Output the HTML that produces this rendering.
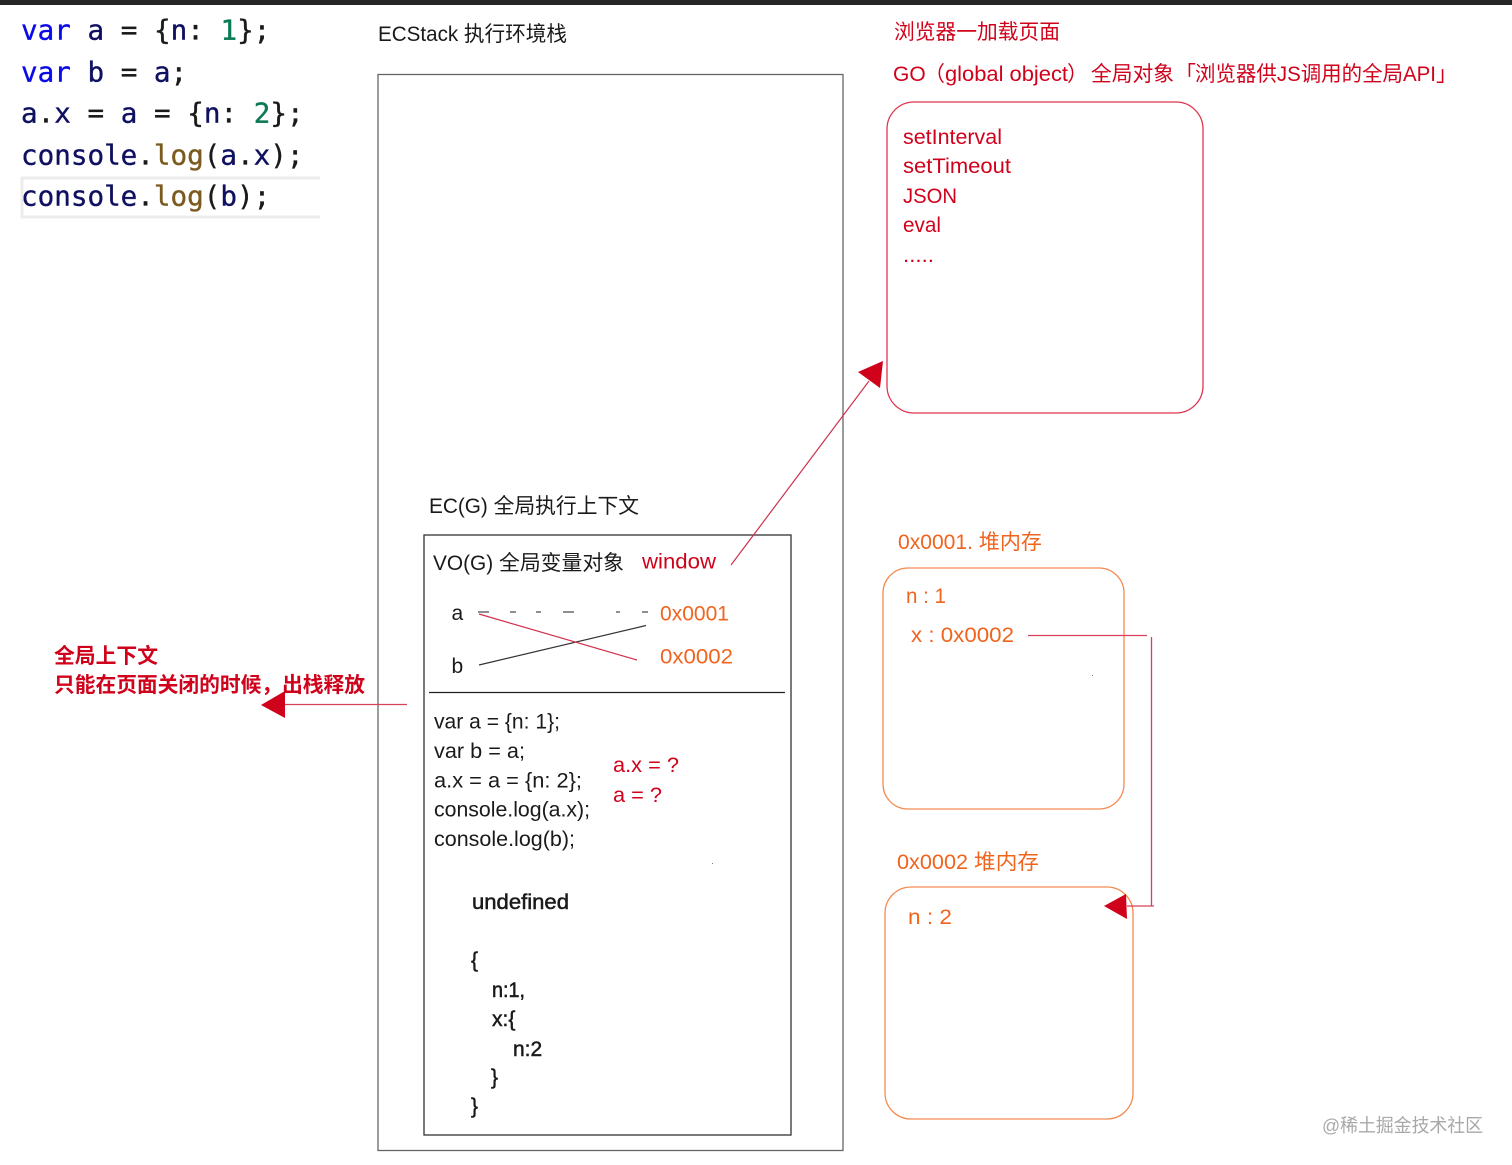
<!DOCTYPE html>
<html lang="zh">
<head>
<meta charset="utf-8">
<title>ECStack diagram</title>
<style>
html,body{margin:0;padding:0;background:#fff;}
svg{display:block;}
text{font-family:"Liberation Sans","Noto Sans CJK SC",sans-serif;font-size:21px;fill:#1a1a1a;}
.code{font-family:"DejaVu Sans Mono","Liberation Mono",monospace;font-size:27.6px;fill:#101060;stroke:#101060;stroke-width:.35px;}
.k{fill:#0a0ae6;stroke:#0a0ae6}.n{fill:#0b7a52;stroke:#0b7a52}.p{fill:#1a1a1a;stroke:#1a1a1a}.f{fill:#7a5a1e;stroke:#7a5a1e}
.r{fill:#d0021b}.o{fill:#f0641e}
.b{font-weight:bold;}
</style>
</head>
<body>
<svg width="1512" height="1165" viewBox="0 0 1512 1165" xmlns="http://www.w3.org/2000/svg">
<rect width="1512" height="5" fill="#262626"/>

<!-- code -->
<path d="M320 178H22V217H320" fill="none" stroke="#ececec" stroke-width="3"/>
<text class="code" x="21" y="39.500"><tspan class="k">var</tspan> a <tspan class="p">=</tspan> <tspan class="p">{</tspan>n<tspan class="p">:</tspan> <tspan class="n">1</tspan><tspan class="p">};</tspan></text>
<text class="code" x="21" y="81.500"><tspan class="k">var</tspan> b <tspan class="p">=</tspan> a<tspan class="p">;</tspan></text>
<text class="code" x="21" y="122.500">a<tspan class="p">.</tspan>x <tspan class="p">=</tspan> a <tspan class="p">=</tspan> <tspan class="p">{</tspan>n<tspan class="p">:</tspan> <tspan class="n">2</tspan><tspan class="p">};</tspan></text>
<text class="code" x="21" y="164.500">console<tspan class="p">.</tspan><tspan class="f">log</tspan><tspan class="p">(</tspan>a<tspan class="p">.</tspan>x<tspan class="p">);</tspan></text>
<text class="code" x="21" y="205.500">console<tspan class="p">.</tspan><tspan class="f">log</tspan><tspan class="p">(</tspan>b<tspan class="p">);</tspan></text>

<!-- ECStack -->
<text x="378" y="41" textLength="189" lengthAdjust="spacingAndGlyphs">ECStack 执行环境栈</text>
<rect x="378" y="74.500" width="465" height="1076" fill="none" stroke="#666" stroke-width="1.300"/>

<!-- EC(G) -->
<text x="429" y="513" textLength="210" lengthAdjust="spacingAndGlyphs">EC(G) 全局执行上下文</text>
<rect x="424" y="535" width="367" height="600" fill="none" stroke="#333" stroke-width="1.300"/>

<text x="433" y="570" textLength="191" lengthAdjust="spacingAndGlyphs">VO(G) 全局变量对象</text>
<text class="r" x="642" y="568.500" textLength="74" lengthAdjust="spacingAndGlyphs">window</text>

<text x="451.500" y="620">a</text>
<text x="451.500" y="673">b</text>
<text class="o" x="660" y="620.500" textLength="69" lengthAdjust="spacingAndGlyphs">0x0001</text>
<text class="o" x="660" y="663.500" textLength="73" lengthAdjust="spacingAndGlyphs">0x0002</text>

<g stroke="#444" stroke-width="1.200">
<line x1="478" y1="612" x2="489" y2="612"/>
<line x1="510" y1="612" x2="516" y2="612"/>
<line x1="536" y1="612" x2="541" y2="612"/>
<line x1="563" y1="612" x2="574" y2="612"/>
<line x1="616" y1="612" x2="620" y2="612"/>
<line x1="642" y1="612" x2="648" y2="612"/>
</g>
<line x1="479" y1="665" x2="646" y2="625.500" stroke="#333" stroke-width="1.200"/>
<line x1="479" y1="614" x2="637" y2="660" stroke="#d0304a" stroke-width="1.200"/>
<line x1="429" y1="692.500" x2="785" y2="692.500" stroke="#222" stroke-width="1.200"/>

<text x="434" y="728.500" textLength="126" lengthAdjust="spacingAndGlyphs">var a = {n: 1};</text>
<text x="434" y="758" textLength="91" lengthAdjust="spacingAndGlyphs">var b = a;</text>
<text x="434" y="787.500" textLength="148" lengthAdjust="spacingAndGlyphs">a.x = a = {n: 2};</text>
<text x="434" y="816.500" textLength="156" lengthAdjust="spacingAndGlyphs">console.log(a.x);</text>
<text x="434" y="846" textLength="141" lengthAdjust="spacingAndGlyphs">console.log(b);</text>

<text class="r" x="613" y="772" textLength="66" lengthAdjust="spacingAndGlyphs">a.x = ?</text>
<text class="r" x="613" y="802" textLength="49" lengthAdjust="spacingAndGlyphs">a = ?</text>

<text x="472" y="909" style="stroke:#1a1a1a;stroke-width:.5px" textLength="97" lengthAdjust="spacingAndGlyphs">undefined</text>
<text x="471" y="967" style="stroke:#1a1a1a;stroke-width:.5px">{</text>
<text x="492" y="997" style="stroke:#1a1a1a;stroke-width:.5px" textLength="33" lengthAdjust="spacingAndGlyphs">n:1,</text>
<text x="492" y="1026" style="stroke:#1a1a1a;stroke-width:.5px">x:{</text>
<text x="513" y="1056" style="stroke:#1a1a1a;stroke-width:.5px">n:2</text>
<text x="491" y="1084" style="stroke:#1a1a1a;stroke-width:.5px">}</text>
<text x="471" y="1113" style="stroke:#1a1a1a;stroke-width:.5px">}</text>

<!-- window arrow -->
<line x1="731" y1="565" x2="869" y2="381" stroke="#d0304a" stroke-width="1.200"/>
<polygon points="858,372 883,361 880,388" fill="#d0021b"/>

<!-- GO -->
<text class="r" x="894" y="39" textLength="166" lengthAdjust="spacingAndGlyphs">浏览器一加载页面</text>
<text class="r" x="893" y="81">GO</text>
<text class="r" x="924" y="81">（</text>
<text class="r" x="945" y="81" textLength="123" lengthAdjust="spacingAndGlyphs">global object</text>
<text class="r" x="1067" y="81">）</text>
<text class="r" x="1091" y="81" textLength="83" lengthAdjust="spacingAndGlyphs">全局对象</text>
<text class="r" x="1175" y="81">「</text>
<text class="r" x="1195" y="81" textLength="241" lengthAdjust="spacingAndGlyphs">浏览器供JS调用的全局API</text>
<text class="r" x="1436" y="81">」</text>
<rect x="887" y="102" width="316" height="311" rx="27" fill="none" stroke="#e0354f" stroke-width="1.300"/>
<text class="r" x="903" y="144" textLength="99" lengthAdjust="spacingAndGlyphs">setInterval</text>
<text class="r" x="903" y="173" textLength="108" lengthAdjust="spacingAndGlyphs">setTimeout</text>
<text class="r" x="903" y="203" textLength="54" lengthAdjust="spacingAndGlyphs">JSON</text>
<text class="r" x="903" y="232" textLength="38" lengthAdjust="spacingAndGlyphs">eval</text>
<text class="r" x="903" y="262" textLength="31" lengthAdjust="spacingAndGlyphs">.....</text>

<!-- Heap 1 -->
<text class="o" x="898" y="549" textLength="144" lengthAdjust="spacingAndGlyphs">0x0001. 堆内存</text>
<rect x="883" y="568" width="241" height="241" rx="25" fill="none" stroke="#f58a50" stroke-width="1.300"/>
<text class="o" x="906" y="603" textLength="40" lengthAdjust="spacingAndGlyphs">n : 1</text>
<text class="o" x="911" y="642" textLength="103" lengthAdjust="spacingAndGlyphs">x : 0x0002</text>
<rect x="1092" y="675" width="1" height="1" fill="#777"/>
<rect x="712" y="863" width="1" height="1" fill="#777"/>

<!-- Heap 2 -->
<text class="o" x="897" y="869" textLength="142" lengthAdjust="spacingAndGlyphs">0x0002 堆内存</text>
<rect x="885" y="887" width="248" height="232" rx="26" fill="none" stroke="#f58a50" stroke-width="1.300"/>
<text class="o" x="908" y="924" textLength="44" lengthAdjust="spacingAndGlyphs">n : 2</text>

<!-- connector -->
<g stroke="#d8405a" stroke-width="1.300" fill="none">
<line x1="1028" y1="635.500" x2="1147" y2="635.500"/>
<line x1="1151.500" y1="637" x2="1151.500" y2="906"/>
<line x1="1127" y1="906" x2="1154" y2="906"/>
</g>
<polygon points="1104,906 1126,894 1127,919" fill="#d0021b"/>

<!-- left note -->
<text class="r b" x="54" y="663" textLength="104" lengthAdjust="spacingAndGlyphs">全局上下文</text>
<text class="r b" x="54" y="692" textLength="311" lengthAdjust="spacingAndGlyphs">只能在页面关闭的时候，出栈释放</text>
<line x1="284" y1="704.500" x2="407" y2="704.500" stroke="#d8405a" stroke-width="1.200"/>
<polygon points="261,705 285,691 285,718" fill="#d0021b"/>

<!-- watermark -->
<text x="1322" y="1132" style="font-size:18.500px;fill:#a8a8a8" textLength="161" lengthAdjust="spacingAndGlyphs">@稀土掘金技术社区</text>
</svg>
</body>
</html>
